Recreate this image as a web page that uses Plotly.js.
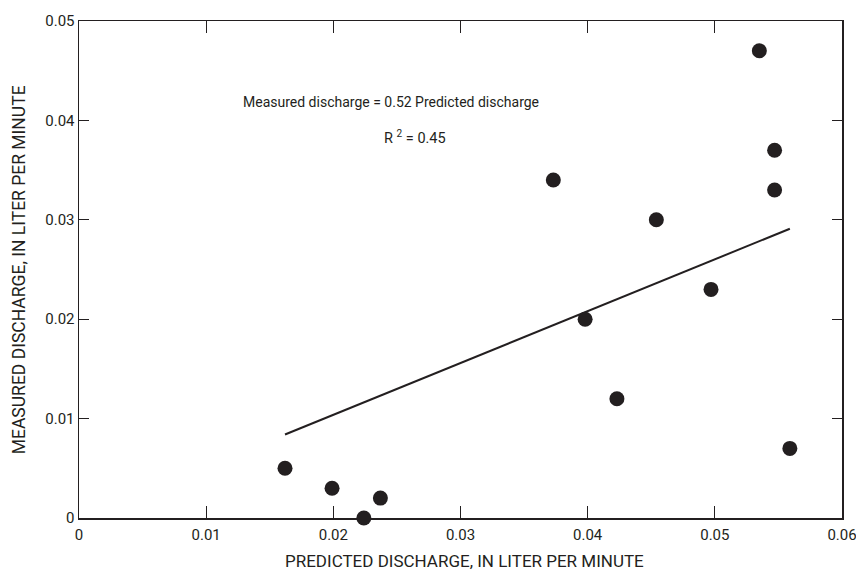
<!DOCTYPE html>
<html>
<head>
<meta charset="utf-8">
<script src="https://cdn.plot.ly/plotly-3.0.1.min.js"></script>
<style>html,body{margin:0;padding:0;background:#fff;}#chart{width:856px;height:576px;}</style>
</head>
<body>
<div id="chart"></div>
<script>
const predicted = [0.0162, 0.0199, 0.0224, 0.0237, 0.0373, 0.0398, 0.0423, 0.0454, 0.0497, 0.0535, 0.0547, 0.0547, 0.0559];
const measured  = [0.005, 0.003, 0.000, 0.002, 0.034, 0.020, 0.012, 0.030, 0.023, 0.047, 0.037, 0.033, 0.007];
const fitX = [0.0162, 0.0559];
const fitY = [0.0084, 0.0291];
const xTickVals = [0, 0.01, 0.02, 0.03, 0.04, 0.05, 0.06];
const xTickText = ["0", "0.01", "0.02", "0.03", "0.04", "0.05", "0.06"];
const yTickVals = [0, 0.01, 0.02, 0.03, 0.04, 0.05];
const yTickText = ["0", "0.01", "0.02", "0.03", "0.04", "0.05"];
const xTitle = 'PREDICTED DISCHARGE, IN LITER PER MINUTE';
const yTitle = 'MEASURED DISCHARGE, IN LITER PER MINUTE';

const ink = '#231f20';
const font = "Roboto, 'Liberation Sans', sans-serif";

const traces = [
  {x: fitX, y: fitY, mode: 'lines', line: {color: ink, width: 2}, hoverinfo: 'skip', cliponaxis: false},
  {x: predicted, y: measured, mode: 'markers', marker: {color: ink, size: 15}, cliponaxis: false}
];

const axisCommon = {
  showgrid: false, zeroline: false, showline: true, linecolor: ink, linewidth: 1.5,
  ticks: 'inside', tickcolor: ink, tickwidth: 1.2, mirror: 'ticks',
  tickfont: {family: font, size: 15, color: ink}, ticklabeloverflow: 'allow'
};

const layout = {
  width: 856, height: 576,
  margin: {l: 79, r: 14, t: 21, b: 58},
  paper_bgcolor: '#fff', plot_bgcolor: '#fff',
  showlegend: false,
  font: {family: font, color: ink},
  xaxis: Object.assign({}, axisCommon, {
    range: [0, 0.06], tickvals: xTickVals, ticktext: xTickText, ticklen: 12, ticklabelstandoff: 2
  }),
  yaxis: Object.assign({}, axisCommon, {
    range: [0, 0.05], tickvals: yTickVals, ticktext: yTickText, ticklen: 10
  }),
  annotations: [
    {x: 0.02453, y: 0.0419, xref: 'x', yref: 'y', text: 'Measured discharge = 0.52 Predicted discharge', showarrow: false, font: {family: font, size: 14, color: ink}},
    {x: 0.02642, y: 0.0383, xref: 'x', yref: 'y', text: 'R <sup>2</sup> = 0.45', showarrow: false, font: {family: font, size: 14.5, color: ink}},
    {x: 0.5046, y: -0.0856, xref: 'paper', yref: 'paper', xanchor: 'center', yanchor: 'middle', text: xTitle, showarrow: false, font: {family: font, size: 17, color: ink}},
    {x: -0.0786, y: 0.4985, xref: 'paper', yref: 'paper', xanchor: 'center', yanchor: 'middle', textangle: -90, text: yTitle, showarrow: false, font: {family: font, size: 17.5, color: ink}}
  ]
};

Plotly.newPlot('chart', traces, layout, {displayModeBar: false, staticPlot: true});
</script>
</body>
</html>
